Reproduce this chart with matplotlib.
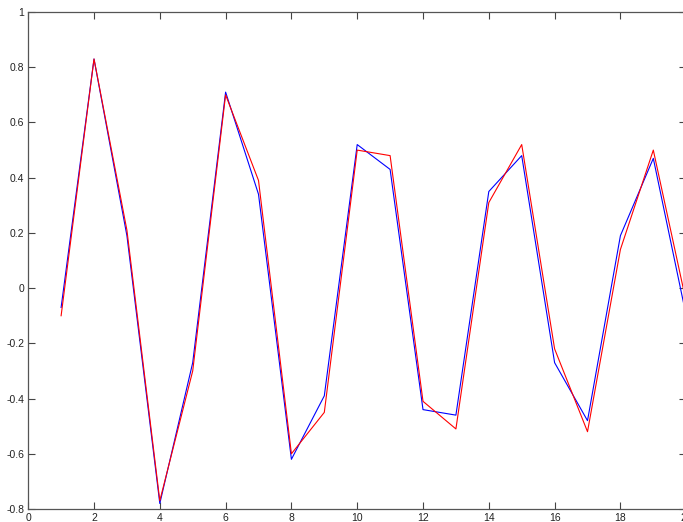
import matplotlib
matplotlib.use('Agg')
import matplotlib.pyplot as plt
from matplotlib.ticker import FuncFormatter

# Sample index and the two signals
x_vals = list(range(1, 21))
blue_vals = [-0.07, 0.83, 0.19, -0.78, -0.27, 0.71, 0.34, -0.62, -0.39, 0.52,
             0.43, -0.44, -0.46, 0.35, 0.48, -0.27, -0.48, 0.19, 0.47, -0.10]
red_vals = [-0.10, 0.83, 0.21, -0.77, -0.30, 0.70, 0.39, -0.60, -0.45, 0.50,
            0.48, -0.41, -0.51, 0.31, 0.52, -0.22, -0.52, 0.14, 0.50, -0.05]

x_ticks = list(range(0, 21, 2))
y_ticks = [-0.8, -0.6, -0.4, -0.2, 0, 0.2, 0.4, 0.6, 0.8, 1]

plt.rcParams['font.family'] = ['Liberation Sans', 'DejaVu Sans']

fig = plt.figure(figsize=(6.83, 5.22), dpi=100)
ax = fig.add_axes([0.0413, 0.0249, 0.9634, 0.952])

ax.plot(x_vals, blue_vals, color='#0000ff', linewidth=0.8)
ax.plot(x_vals, red_vals, color='#ff0000', linewidth=0.8)

ax.set_xlim(0, 20)
ax.set_ylim(-0.8, 1)
ax.set_xticks(x_ticks)
ax.set_yticks(y_ticks)


def matlab_fmt(v, pos):
    s = f'{v:.1f}'
    if s.endswith('.0'):
        s = s[:-2]
    return '0' if s == '-0' else s


ax.yaxis.set_major_formatter(FuncFormatter(matlab_fmt))
ax.tick_params(direction='in', length=5, width=0.8, color='#444444',
               labelsize=7.5, labelcolor='#222222', pad=3,
               top=True, right=True)
for spine in ax.spines.values():
    spine.set_color('#555555')
    spine.set_linewidth(0.9)

fig.savefig('out.png', dpi=100, facecolor='white')
plt.close()
